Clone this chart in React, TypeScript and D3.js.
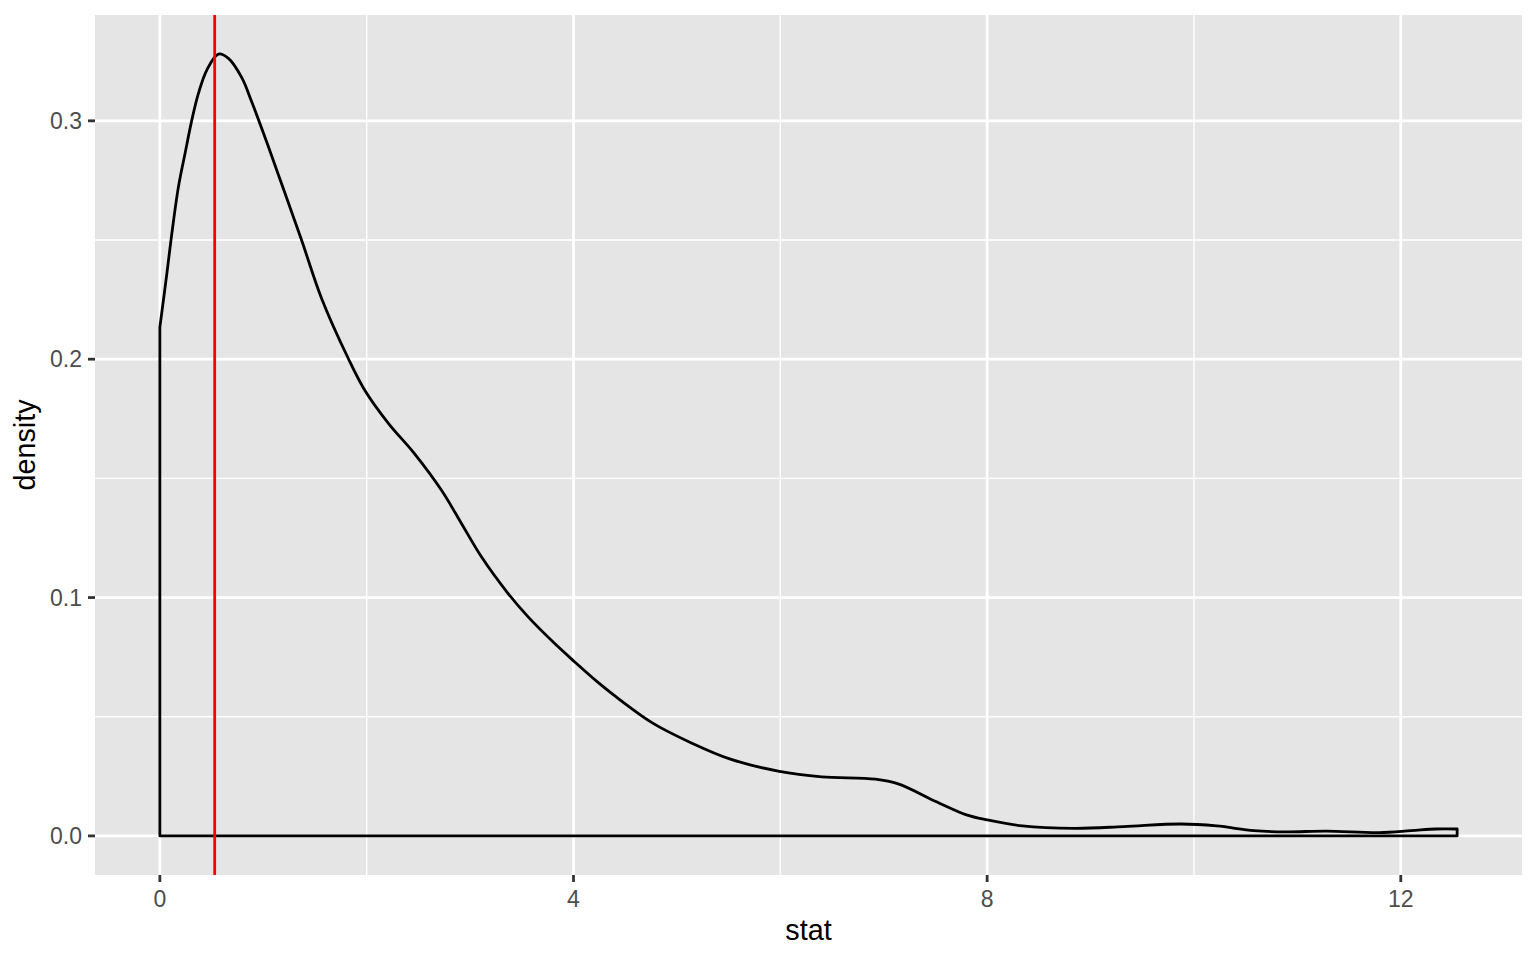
import React from 'react';
import * as d3 from 'd3';

// density estimate
const statX = [0, 0.068, 0.116, 0.18, 0.244, 0.309, 0.373, 0.454, 0.566, 0.663, 0.791, 0.888, 1.049, 1.21, 1.37, 1.564, 1.82, 1.98, 2.21, 2.46, 2.722, 2.915, 3.108, 3.366, 3.559, 3.816, 4.009, 4.234, 4.428, 4.77, 5.14, 5.51, 5.99, 6.4, 6.92, 7.14, 7.51, 7.8, 8.0, 8.34, 8.85, 9.32, 9.87, 10.22, 10.58, 10.89, 11.28, 11.79, 12.1, 12.34, 12.545];
const densityY = [0.2134, 0.236, 0.2528, 0.2724, 0.2864, 0.3003, 0.3115, 0.3213, 0.328, 0.3262, 0.3182, 0.308, 0.2892, 0.2696, 0.25, 0.2255, 0.2005, 0.1871, 0.1731, 0.1605, 0.1451, 0.1312, 0.1172, 0.1018, 0.092, 0.0808, 0.0731, 0.0645, 0.0578, 0.0472, 0.039, 0.0323, 0.0271, 0.0248, 0.0238, 0.0218, 0.0143, 0.0088, 0.0067, 0.0042, 0.0032, 0.0039, 0.005, 0.0042, 0.0022, 0.0017, 0.002, 0.0014, 0.0022, 0.0029, 0.0029];
const observedStat = 0.53;

const xTicks = [0, 4, 8, 12];
const xMinor = [2, 6, 10];
const yTicks = [0, 0.1, 0.2, 0.3];
const yMinor = [0.05, 0.15, 0.25];

const W = 1536;
const H = 960;
const margin = { top: 15, right: 14, bottom: 85, left: 95 };

export default function App() {
  const pw = W - margin.left - margin.right;
  const ph = H - margin.top - margin.bottom;

  const xMax = d3.max(statX) as number;
  const yMax = d3.max(densityY) as number;
  const xPad = xMax * 0.05;
  const yPad = yMax * 0.05;

  const x = d3.scaleLinear().domain([-xPad, xMax + xPad]).range([0, pw]);
  const y = d3.scaleLinear().domain([-yPad, yMax + yPad]).range([ph, 0]);

  const pts: [number, number][] = statX.map((v, i) => [v, densityY[i]]);
  const line = d3.line<[number, number]>()
    .x(d => x(d[0]))
    .y(d => y(d[1]))
    .curve(d3.curveCatmullRom.alpha(0.5));
  // closed outline like geom_density: curve, right edge, baseline, back up
  const outline = `${line(pts)}L${x(xMax)},${y(0)}L${x(0)},${y(0)}Z`;

  const font = "'Liberation Sans', Arial, Helvetica, sans-serif";

  return (
    <svg width={W} height={H} style={{ position: 'absolute', left: 0, top: 0, background: '#fff' }}>
      <g transform={`translate(${margin.left},${margin.top})`}>
        <rect width={pw} height={ph} fill="#E5E5E5" />
        {/* minor grid */}
        {xMinor.map(t => (
          <line key={'xm' + t} x1={x(t)} x2={x(t)} y1={0} y2={ph} stroke="#fff" strokeWidth={1.4} />
        ))}
        {yMinor.map(t => (
          <line key={'ym' + t} x1={0} x2={pw} y1={y(t)} y2={y(t)} stroke="#fff" strokeWidth={1.4} />
        ))}
        {/* major grid */}
        {xTicks.map(t => (
          <line key={'xg' + t} x1={x(t)} x2={x(t)} y1={0} y2={ph} stroke="#fff" strokeWidth={2.8} />
        ))}
        {yTicks.map(t => (
          <line key={'yg' + t} x1={0} x2={pw} y1={y(t)} y2={y(t)} stroke="#fff" strokeWidth={2.8} />
        ))}

        <path d={outline} fill="none" stroke="#000" strokeWidth={2.8} strokeLinejoin="round" />
        <line x1={x(observedStat)} x2={x(observedStat)} y1={0} y2={ph} stroke="#FF0000" strokeWidth={2.8} />

        {/* x axis */}
        {xTicks.map(t => (
          <g key={'xt' + t} transform={`translate(${x(t)},${ph})`}>
            <line y1={0} y2={7} stroke="#333" strokeWidth={2.8} />
            <text y={32} textAnchor="middle" fill="#4D4D4D" fontSize={23} fontFamily={font}>{t}</text>
          </g>
        ))}
        {/* y axis */}
        {yTicks.map(t => (
          <g key={'yt' + t} transform={`translate(0,${y(t)})`}>
            <line x1={-7} x2={0} stroke="#333" strokeWidth={2.8} />
            <text x={-13} dy="0.35em" textAnchor="end" fill="#4D4D4D" fontSize={23} fontFamily={font}>{t.toFixed(1)}</text>
          </g>
        ))}

        <text x={pw / 2} y={ph + 65} textAnchor="middle" fill="#000" fontSize={28.75} fontFamily={font}>stat</text>
        <text transform={`translate(${-60},${ph / 2}) rotate(-90)`} textAnchor="middle" fill="#000" fontSize={28.75} fontFamily={font}>density</text>
      </g>
    </svg>
  );
}
